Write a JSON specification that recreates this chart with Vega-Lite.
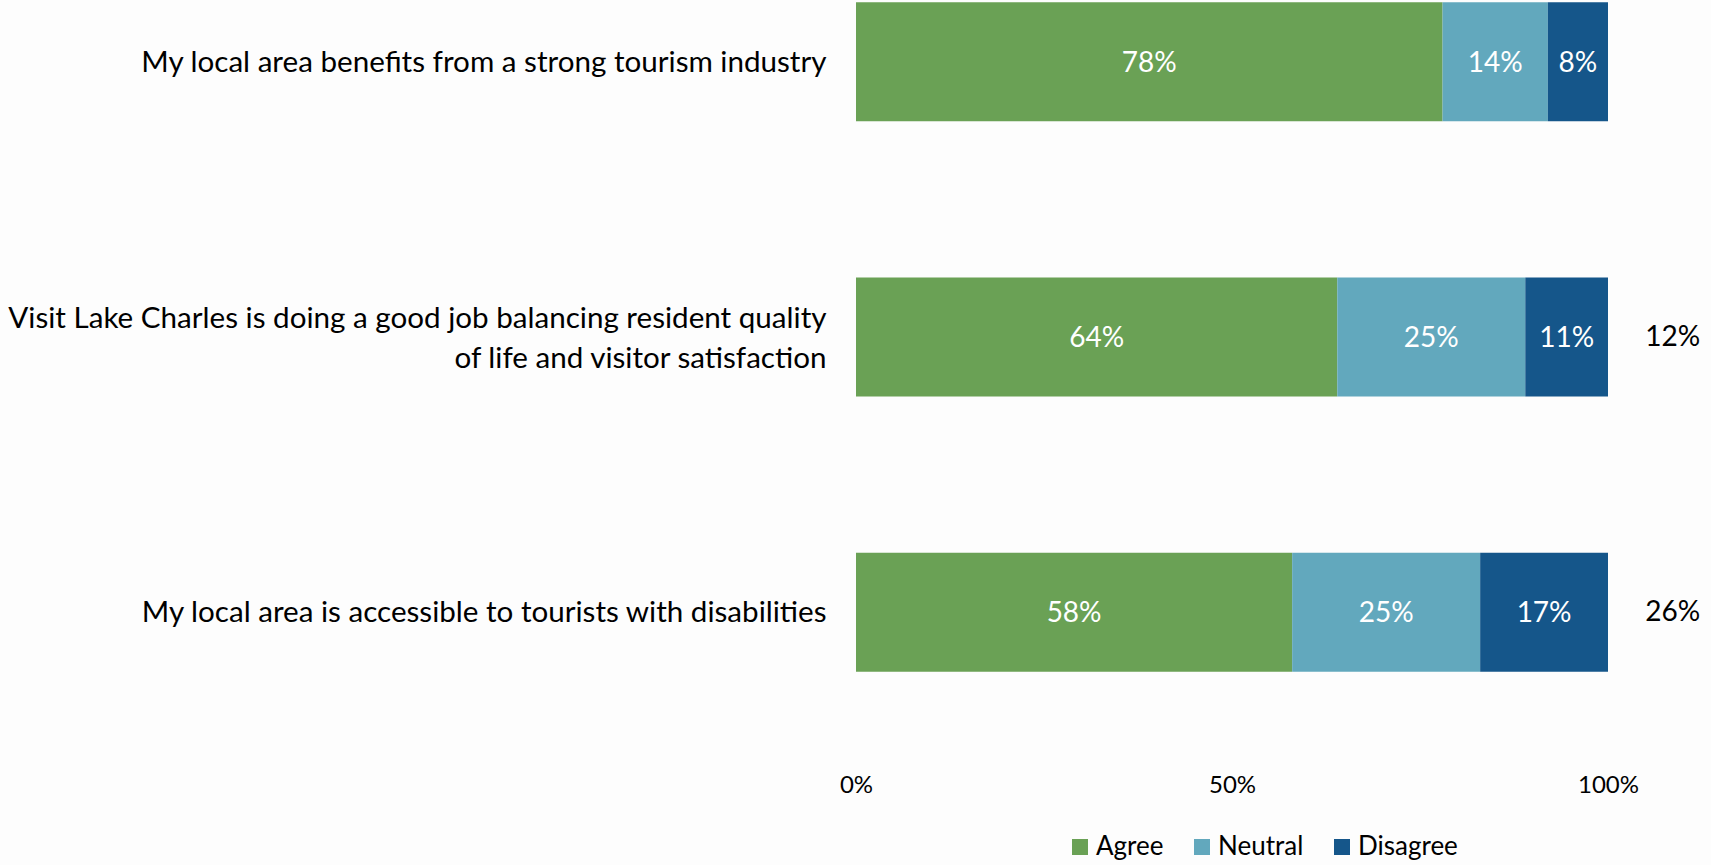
{
  "$schema": "https://vega.github.io/schema/vega-lite/v6.json",
  "width": 752,
  "height": 674,
  "autosize": "none",
  "padding": {"left": 856, "top": 0, "right": 103, "bottom": 191},
  "background": "#fdfdfd",
  "config": {"view": {"stroke": null}, "font": "Lato", "text": {"font": "Lato"}},
  "datasets": {
    "resp": [
      {"statement": "My local area benefits from a strong tourism industry", "response": "Agree", "value": 0.78},
      {"statement": "My local area benefits from a strong tourism industry", "response": "Neutral", "value": 0.14},
      {"statement": "My local area benefits from a strong tourism industry", "response": "Disagree", "value": 0.08},
      {"statement": "Visit Lake Charles is doing a good job balancing resident quality|of life and visitor satisfaction", "response": "Agree", "value": 0.64},
      {"statement": "Visit Lake Charles is doing a good job balancing resident quality|of life and visitor satisfaction", "response": "Neutral", "value": 0.25},
      {"statement": "Visit Lake Charles is doing a good job balancing resident quality|of life and visitor satisfaction", "response": "Disagree", "value": 0.11},
      {"statement": "My local area is accessible to tourists with disabilities", "response": "Agree", "value": 0.58},
      {"statement": "My local area is accessible to tourists with disabilities", "response": "Neutral", "value": 0.25},
      {"statement": "My local area is accessible to tourists with disabilities", "response": "Disagree", "value": 0.17}
    ],
    "dk": [
      {"statement": "Visit Lake Charles is doing a good job balancing resident quality|of life and visitor satisfaction", "value": 0.12},
      {"statement": "My local area is accessible to tourists with disabilities", "value": 0.26}
    ]
  },
  "layer": [
    {
      "data": {"name": "resp"},
      "transform": [
        {"calculate": "indexof(['Agree','Neutral','Disagree'], datum.response)", "as": "idx"},
        {"stack": "value", "groupby": ["statement"], "sort": [{"field": "idx", "order": "ascending"}], "as": ["x0", "x1"]}
      ],
      "mark": {"type": "bar"},
      "encoding": {
        "y": {
          "field": "statement", "type": "nominal",
          "sort": [
            "My local area benefits from a strong tourism industry",
            "Visit Lake Charles is doing a good job balancing resident quality|of life and visitor satisfaction",
            "My local area is accessible to tourists with disabilities"
          ],
          "scale": {"paddingInner": 0.568, "paddingOuter": 0.008},
          "axis": {
            "title": null, "domain": false, "ticks": false, "labelPadding": 30,
            "labelFontSize": 29.6, "labelLimit": 1000, "labelColor": "#000000",
            "labelExpr": "split(datum.label, '|')", "labelLineHeight": 40,
            "labelOffset": {"condition": {"test": "indexof(datum.value, '|') >= 0", "value": -18}, "value": 1}
          }
        },
        "x": {
          "field": "x0", "type": "quantitative",
          "scale": {"domain": [0, 1], "nice": false},
          "axis": {
            "title": null, "values": [0, 0.5, 1], "format": ".0%", "grid": false,
            "domain": false, "ticks": false, "labelFlush": false, "offset": 96,
            "labelPadding": 3, "labelFontSize": 24, "labelColor": "#000000"
          }
        },
        "x2": {"field": "x1"},
        "color": {
          "field": "response", "type": "nominal",
          "sort": ["Agree", "Neutral", "Disagree"],
          "scale": {"domain": ["Agree", "Neutral", "Disagree"], "range": ["#6aa155", "#62a8bd", "#15568a"]},
          "legend": {
            "title": null, "orient": "none", "direction": "horizontal",
            "legendX": 211, "legendY": 834, "symbolType": "square", "symbolSize": 256,
            "symbolStrokeWidth": 0, "labelFontSize": 26, "labelColor": "#000000",
            "columnPadding": 25, "labelOffset": 3
          }
        }
      }
    },
    {
      "data": {"name": "resp"},
      "transform": [
        {"calculate": "indexof(['Agree','Neutral','Disagree'], datum.response)", "as": "idx"},
        {"stack": "value", "groupby": ["statement"], "sort": [{"field": "idx", "order": "ascending"}], "as": ["x0", "x1"]},
        {"calculate": "(datum.x0 + datum.x1) / 2", "as": "mid"}
      ],
      "mark": {"type": "text", "color": "#ffffff", "fontSize": 28, "align": "center", "baseline": "middle", "dy": 2},
      "encoding": {
        "y": {
          "field": "statement", "type": "nominal",
          "sort": [
            "My local area benefits from a strong tourism industry",
            "Visit Lake Charles is doing a good job balancing resident quality|of life and visitor satisfaction",
            "My local area is accessible to tourists with disabilities"
          ]
        },
        "x": {"field": "mid", "type": "quantitative"},
        "text": {"field": "value", "type": "quantitative", "format": ".0%"}
      }
    },
    {
      "data": {"name": "dk"},
      "mark": {"type": "text", "color": "#000000", "fontSize": 28, "align": "center", "baseline": "middle", "dy": 1},
      "encoding": {
        "y": {
          "field": "statement", "type": "nominal",
          "sort": [
            "My local area benefits from a strong tourism industry",
            "Visit Lake Charles is doing a good job balancing resident quality|of life and visitor satisfaction",
            "My local area is accessible to tourists with disabilities"
          ]
        },
        "x": {"datum": 1.086},
        "text": {"field": "value", "type": "quantitative", "format": ".0%"}
      }
    }
  ]
}
